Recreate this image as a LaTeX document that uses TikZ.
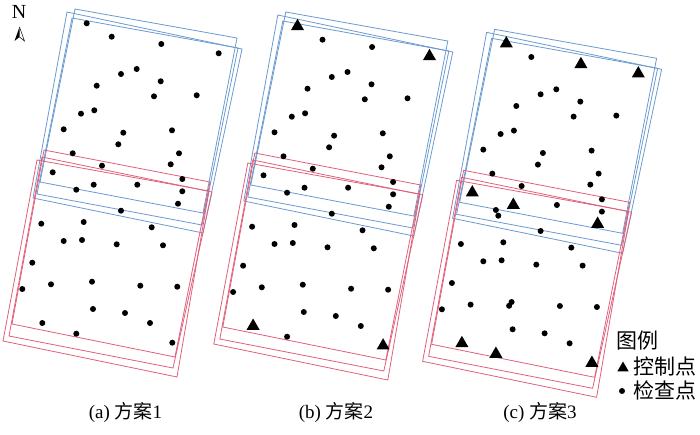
\documentclass[tikz,border=0pt]{standalone}
\usepackage{fontspec}
\setmainfont{Liberation Serif}
\newfontfamily\cjk{Noto Sans CJK SC}
\usetikzlibrary{shapes.geometric}
\definecolor{stripblue}{HTML}{6A9AD0}
\definecolor{stripred}{HTML}{E0607A}

\begin{document}
\begin{tikzpicture}[
    x=1pt, y=-1pt,
    strip_blue/.style={draw=stripblue, line width=0.8pt},
    strip_red/.style={draw=stripred, line width=0.8pt},
    check_pt/.style={circle, fill=black, inner sep=0pt, minimum size=6pt},
    ctrl_pt/.style={regular polygon, regular polygon sides=3, fill=black, inner sep=0pt, minimum size=15pt},
    panel_label/.style={font=\fontsize{19}{22}\selectfont, inner sep=0pt},
    legend_txt/.style={font=\fontsize{21}{24}\selectfont\cjk, anchor=west, inner sep=0pt}
]
\useasboundingbox (0,0) rectangle (700,434);

% strips and common check points, one scope per scheme
\foreach \dx/\dy/\tag in {0/0/a, 210.8/3/b, 419.6/20.3/c} {
  \begin{scope}[shift={(\dx,\dy)}]
    \draw[strip_blue] (75,9) -- (237,38) -- (203,213) -- (40,182) -- cycle;
    \draw[strip_blue] (67,12) -- (242,49) -- (203,233) -- (33,198) -- cycle;
    \draw[strip_blue] (72,18) -- (238,48) -- (202,225) -- (37,194) -- cycle;
    \draw[strip_red] (44,150) -- (210,182) -- (175,357) -- (12,324) -- cycle;
    \draw[strip_red] (42,157) -- (212,192) -- (173,368) -- (9,336) -- cycle;
    \draw[strip_red] (37,160) -- (209,191) -- (177,377) -- (3,341) -- cycle;
    \foreach \px/\py [count=\i] in {111.7/36.7, 136.7/69, 121/74, 160.7/81.3,
        96.7/85.7, 154/96.3, 196.7/95.3, 94.3/110.3, 81/113.7, 63.7/129.3,
        123.3/132.7, 172/130.3, 118.3/144.3, 72.7/153.3, 179/153.3, 102/165.7,
        170.7/164.3, 182.3/179, 137.3/184.7, 76.3/189.7, 182.3/191.3,
        121/210.7, 41.3/223.7, 83.7/222, 151.7/227.3, 63.7/241, 82/240,
        116.7/244.3, 163/245.3, 32.3/262.7, 22.3/289, 51/284.3, 92/281.7,
        140.3/285.7, 177.3/286.7, 93/309, 125/313, 150/323}
      \node[check_pt] (\tag-chk\i) at (\px,\py) {};
  \end{scope}
}

% scheme 1: no control points
\foreach \px/\py [count=\i] in {86.7/23.3, 161.3/44, 218.7/53.3, 52.7/172.3,
    93.7/184.7, 178/203.7, 42.3/323, 76.3/333.7, 172.3/342.7}
  \node[check_pt] (a-ext\i) at (\px,\py) {};

% scheme 2
\begin{scope}[shift={(210.8,3)}]
  \foreach \px/\py [count=\i] in {161.3/44, 52.7/172.3, 93.7/184.7, 178/203.7, 76.3/333.7}
    \node[check_pt] (b-ext\i) at (\px,\py) {};
  \foreach \px/\py [count=\i] in {86.7/23.3, 218.7/53.3, 42.3/323, 172.3/342.7}
    \node[ctrl_pt] (b-ctl\i) at (\px,\py) {};
\end{scope}

% scheme 3
\begin{scope}[shift={(419.6,20.3)}]
  \foreach \px/\py [count=\i] in {78.7/195.4, 89.5/285.5}
    \node[check_pt] (c-ext\i) at (\px,\py) {};
  \foreach \px/\py [count=\i] in {86.7/23.3, 161.3/44, 218.7/53.3, 52.7/172.3,
      93.7/184.7, 178/203.7, 42.3/323, 76.3/333.7, 172.3/342.7}
    \node[ctrl_pt] (c-ctl\i) at (\px,\py) {};
\end{scope}

\node[panel_label] (lab_a) at (125.5,412) {(a) {\cjk 方案}1};
\node[panel_label] (lab_b) at (336,412) {(b) {\cjk 方案}2};
\node[panel_label] (lab_c) at (540,412) {(c) {\cjk 方案}3};

% legend
\node[legend_txt] (leg_title) at (616,341) {图例};
\node[ctrl_pt, minimum size=13pt] (leg_ctl) at (623,368) {};
\node[legend_txt] (leg_ctl_txt) at (633,366) {控制点};
\node[check_pt] (leg_chk) at (622,391) {};
\node[legend_txt] (leg_chk_txt) at (633,390) {检查点};

% north arrow
\node[font=\fontsize{20}{22}\selectfont, inner sep=0pt] (north) at (19,12) {N};
\fill (19.5,27) -- (14.5,41) -- (19.5,37) -- cycle;
\draw[line width=0.5pt] (19.5,27) -- (24.5,41) -- (19.5,37);

\end{tikzpicture}
\end{document}
